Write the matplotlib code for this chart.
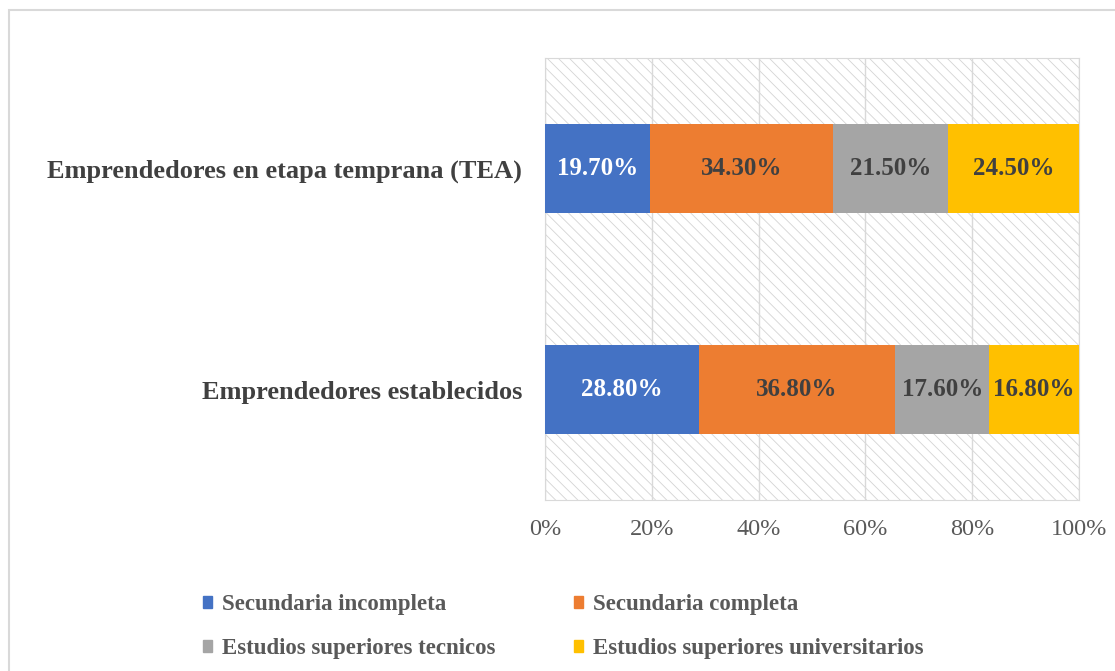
import matplotlib.pyplot as plt
from matplotlib.patches import Rectangle
import numpy as np

# datos
categorias = ['Emprendedores en etapa temprana (TEA)', 'Emprendedores establecidos']
series = ['Secundaria incompleta', 'Secundaria completa',
          'Estudios superiores tecnicos', 'Estudios superiores universitarios']
valores = {
    'Secundaria incompleta': [19.7, 28.8],
    'Secundaria completa': [34.3, 36.8],
    'Estudios superiores tecnicos': [21.5, 17.6],
    'Estudios superiores universitarios': [24.5, 16.8],
}
colores = ['#4472C4', '#ED7D31', '#A5A5A5', '#FFC000']
color_texto = ['white', '#404040', '#404040', '#404040']
ticks_x = [0, 20, 40, 60, 80, 100]

plt.rcParams['font.family'] = ['Liberation Serif', 'DejaVu Serif']
plt.rcParams['hatch.linewidth'] = 0.6
plt.rcParams['hatch.color'] = '#d4d4d4'

W, H = 1115, 671
fig = plt.figure(figsize=(W / 100, H / 100), dpi=100)

# marco exterior
fig.patches.append(Rectangle((9 / W, 0 - 0.01), 1.0, 1 - 10 / H + 0.01,
                             transform=fig.transFigure, fill=False,
                             edgecolor='#d9d9d9', linewidth=1.5))

ax = fig.add_axes([545 / W, 1 - 500 / H, (1079 - 545) / W, (500 - 58) / H])

# fondo rayado
ax.add_patch(Rectangle((0, 0), 1, 1, transform=ax.transAxes, facecolor='white',
                       edgecolor='#d4d4d4', hatch='\\\\\\', linewidth=0, zorder=0))

y = np.arange(len(categorias))
izq = np.zeros(len(categorias))
for i, s in enumerate(series):
    v = np.array(valores[s])
    ax.barh(y, v, left=izq, height=0.4, color=colores[i], zorder=3)
    for j in range(len(y)):
        ax.text(izq[j] + v[j] / 2, y[j], '%.2f%%' % v[j], ha='center', va='center',
                color=color_texto[i], fontsize=18, fontweight='bold', zorder=4)
    izq += v

ax.set_xlim(0, 100)
ax.set_ylim(1.5, -0.5)
ax.set_xticks(ticks_x)
ax.set_xticklabels(['%d%%' % t for t in ticks_x], fontsize=17.5, color='#595959')
ax.set_yticks(y)
ax.set_yticklabels(categorias, fontsize=19, fontweight='bold', color='#404040')
ax.tick_params(length=0)
ax.tick_params(axis='x', pad=14)
ax.tick_params(axis='y', pad=16.5)
ax.grid(axis='x', color='#d9d9d9', linewidth=1, zorder=1)
for sp in ax.spines.values():
    sp.set_color('#d9d9d9')

# leyenda por filas (matplotlib llena por columnas)
orden = [0, 2, 1, 3]
handles = [Rectangle((0, 0), 1, 1, color=colores[k]) for k in orden]
etiquetas = [series[k] for k in orden]
leg = fig.legend(handles, etiquetas, ncol=2, loc='upper left',
                 bbox_to_anchor=(203 / W, 1 - 594 / H), frameon=False,
                 borderpad=0, borderaxespad=0,
                 handlelength=0.4, handleheight=0.4, handletextpad=0.45,
                 columnspacing=3.4, labelspacing=1.0,
                 prop={'size': 16.5, 'weight': 'bold'})
for t in leg.get_texts():
    t.set_color('#595959')

fig.savefig('out.png', dpi=100)
